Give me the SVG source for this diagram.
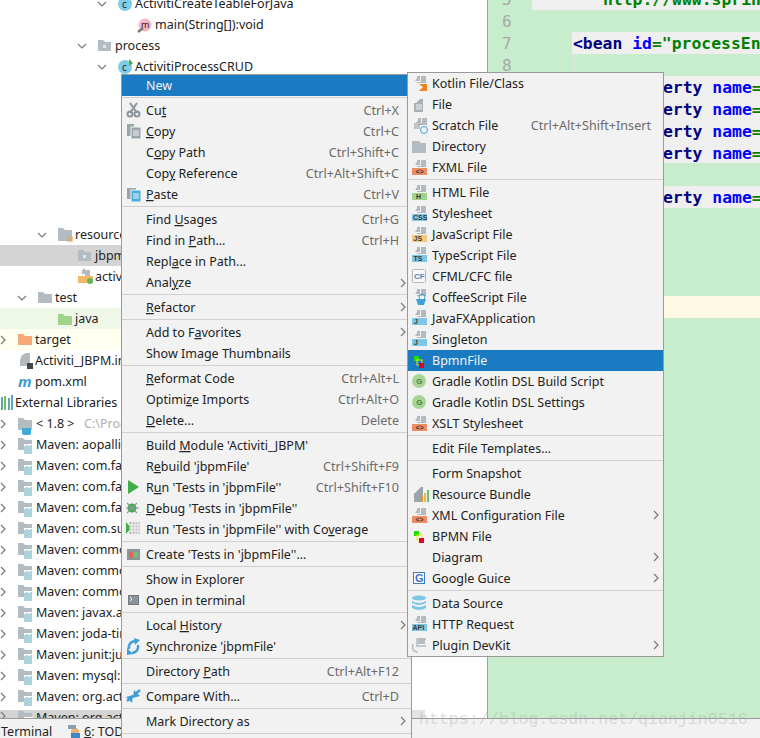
<svg xmlns="http://www.w3.org/2000/svg" width="760" height="738" viewBox="0 0 760 738">
<style>
text{font-family:"Noto Sans","Open Sans",sans-serif;font-size:12.5px;fill:#222}
.k{fill:#6b6b6b;text-anchor:end;font-size:12.6px}
.h{fill:#f2f2f2}
.u{text-decoration:underline}
.m{font-family:"DejaVu Sans Mono",monospace;font-size:16.4px;font-weight:bold}
.n{fill:#000080}.b{fill:#0000ff}.g{fill:#008000}
.ln{font-family:"DejaVu Sans Mono",monospace;font-size:16px;fill:#a8a8a8}
.sep{stroke:#cfcfcf;stroke-width:1;fill:none}
.chev{stroke:#7a7a7a;stroke-width:1.2;fill:none}
.tag{font-size:7px;font-weight:bold;fill:#3a3a3a;font-family:"Liberation Sans",sans-serif}
</style>
<defs>
<path id="cd" d="M-4 -2L0 2L4 -2" class="chev"/>
<path id="cr" d="M-2 -4L2 0L-2 4" class="chev"/>
<g id="pg"><path d="M5 0H8V5H5ZM3 5L5 2V5ZM9 0H14V7H5V6H9Z" fill="#b3babf"/></g>
<g id="fold"><path d="M0 0H5L7 2H13V11H0Z" fill="#b4bcc3"/><rect x="5" y="5" width="3" height="3" fill="#e6e9eb"/></g>
<g id="lib"><path d="M0 0H5L7 2H14V12H0Z" fill="#b4bcc3"/><path d="M6 6H15V16H6Z" fill="#fff"/><path d="M7 8V16M9 7V16M11 8V16M13 7V16" stroke="#5aa6b8" stroke-width="1"/></g>
</defs>
<rect width="760" height="738" fill="#fff"/>

<g id="editor">
<rect x="488" y="0" width="272" height="718" fill="#c7edcc"/>
<path d="M487.5 0V718" stroke="#a0a0a0"/>
<rect x="532" y="0" width="228" height="10" fill="#efefef"/>
<rect x="572" y="32" width="188" height="22" fill="#efefef"/>
<rect x="640" y="76" width="120" height="87" fill="#efefef"/>
<rect x="640" y="186" width="120" height="22" fill="#efefef"/>
<rect x="640" y="296" width="120" height="22" fill="#fff8e3"/>
<path d="M574.5 54V72" stroke="#dfe8df"/>
<text class="ln" x="502" y="5">5</text><text class="ln" x="502" y="27">6</text><text class="ln" x="502" y="49">7</text><text class="ln" x="502" y="71">8</text>
<text class="m g" x="603" y="5">http://www.sprin</text>
<text class="m n" x="573" y="49">&lt;bean <tspan class="b">id</tspan><tspan class="g">="processEn</tspan></text>
<text class="m n" x="663" y="93">erty <tspan class="b">name</tspan><tspan class="g">=</tspan></text>
<text class="m n" x="663" y="115">erty <tspan class="b">name</tspan><tspan class="g">=</tspan></text>
<text class="m n" x="663" y="137">erty <tspan class="b">name</tspan><tspan class="g">=</tspan></text>
<text class="m n" x="663" y="159">erty <tspan class="b">name</tspan><tspan class="g">=</tspan></text>
<text class="m n" x="663" y="203">erty <tspan class="b">name</tspan><tspan class="g">=</tspan></text>
</g>

<g id="project-tree">
<rect x="0" y="245" width="122" height="21" fill="#d4d4d4"/>
<rect x="0" y="308" width="122" height="21" fill="#eff8e8"/>
<rect x="0" y="329" width="122" height="21" fill="#fffff0"/>
<rect x="0" y="710" width="122" height="8" fill="#d4d4d4"/>
<use href="#cd" x="102" y="4"/><use href="#cd" x="82" y="46"/><use href="#cd" x="102" y="67"/><use href="#cd" x="42" y="235"/><use href="#cd" x="22" y="298"/>
<g id="tree-icons">
<circle cx="125" cy="4" r="7" fill="#7fcde8"/><text x="122" y="8" style="font-size:10px">c</text>
<circle cx="145" cy="25" r="6.5" fill="#f7b7c3"/><text x="141" y="28" style="font-size:9px">m</text>
<path d="M138 32L143 28" stroke="#777" stroke-width="2.5"/>
<use href="#fold" x="98" y="40"/>
<circle cx="125" cy="67" r="7" fill="#7fcde8"/><text x="122" y="71" style="font-size:10px">c</text><path d="M129 59L133 63L129 66Z" fill="#4caf3c"/>
<path d="M58 228H63L65 230H72V241H58Z" fill="#b4bcc3"/><path d="M67 237H73M67 239H73M67 241H73" stroke="#e8a33d"/>
<use href="#fold" x="78" y="250"/>
<path d="M82 270L85 268V274H82ZM85 270H90V276H85Z" fill="#b3babf"/><rect x="78" y="276" width="15" height="7" fill="#f5b867"/><circle cx="90" cy="281" r="3" fill="#5cb85c"/>
<path d="M38 292H43L45 294H52V303H38Z" fill="#b4bcc3"/>
<path d="M58 314H63L65 316H72V325H58Z" fill="#a2d38a"/>
<path d="M18 334H23L25 336H32V345H18Z" fill="#f5a878"/>
<path d="M22 355L26 353H30V366H20V360Z" fill="#b3babf"/><rect x="27" y="363" width="6" height="6" fill="#444"/>
<text x="18" y="387" style="font-size:15px;font-style:italic;fill:#3d9bd0;font-weight:bold">m</text>
<path d="M2 397V410M5 396V410M9 398V410M12 395V410" stroke="#5aa6b8" stroke-width="2"/><path d="M5 396V410" stroke="#79c050" stroke-width="2"/>
<path d="M18 418H23L25 420H32V430H18Z" fill="#b4bcc3"/><path d="M22 428H31V433Q31 435 29 435H24Q22 435 22 433Z" fill="#3fa9d8"/>
<use href="#lib" x="18" y="438"/><use href="#lib" x="18" y="459"/><use href="#lib" x="18" y="480"/><use href="#lib" x="18" y="501"/><use href="#lib" x="18" y="522"/><use href="#lib" x="18" y="543"/><use href="#lib" x="18" y="564"/><use href="#lib" x="18" y="585"/><use href="#lib" x="18" y="606"/><use href="#lib" x="18" y="627"/><use href="#lib" x="18" y="648"/><use href="#lib" x="18" y="669"/><use href="#lib" x="18" y="690"/><use href="#lib" x="18" y="711"/>
<use href="#cr" x="3" y="340"/><use href="#cr" x="3" y="424"/><use href="#cr" x="3" y="445"/><use href="#cr" x="3" y="466"/><use href="#cr" x="3" y="487"/><use href="#cr" x="3" y="508"/><use href="#cr" x="3" y="529"/><use href="#cr" x="3" y="550"/><use href="#cr" x="3" y="571"/><use href="#cr" x="3" y="592"/><use href="#cr" x="3" y="613"/><use href="#cr" x="3" y="634"/><use href="#cr" x="3" y="655"/><use href="#cr" x="3" y="676"/><use href="#cr" x="3" y="697"/><use href="#cr" x="3" y="716"/>
</g>
<g id="tree-labels" transform="translate(0,-1)">
<text x="135" y="9">ActivitiCreateTeableForJava</text>
<text x="155" y="30">main(String[]):void</text>
<text x="115" y="51">process</text>
<text x="135" y="72">ActivitiProcessCRUD</text>
<text x="75" y="240">resources</text>
<text x="95" y="261">jbpmFile</text>
<text x="95" y="282">activiti</text>
<text x="55" y="303">test</text>
<text x="75" y="324">java</text>
<text x="35" y="345">target</text>
<text x="35" y="366">Activiti_JBPM.iml</text>
<text x="35" y="387">pom.xml</text>
<text x="15" y="408">External Libraries</text>
<text x="36" y="429">&lt; 1.8 &gt;</text><text x="84" y="429" style="fill:#b0b0b0">C:\Program</text>
<text x="36" y="450">Maven: aopalliance</text>
<text x="36" y="471">Maven: com.fasterxml</text>
<text x="36" y="492">Maven: com.fasterxml</text>
<text x="36" y="513">Maven: com.fasterxml</text>
<text x="36" y="534">Maven: com.sun</text>
<text x="36" y="555">Maven: commons</text>
<text x="36" y="576">Maven: commons</text>
<text x="36" y="597">Maven: commons</text>
<text x="36" y="618">Maven: javax.activation</text>
<text x="36" y="639">Maven: joda-time</text>
<text x="36" y="660">Maven: junit:junit</text>
<text x="36" y="681">Maven: mysql:mysql</text>
<text x="36" y="702">Maven: org.activiti</text>
<text x="36" y="723">Maven: org.activiti</text>
</g>
</g>

<g id="status-bar">
<rect x="0" y="718" width="760" height="20" fill="#f2f2f2"/>
<path d="M0 718.5H760" stroke="#9a9a9a"/>
<text x="1" y="736">Terminal</text>
<circle cx="75" cy="732" r="4" fill="#f0b070"/><rect x="68" y="725" width="8" height="4" fill="#8aa0ac"/><rect x="71" y="733" width="9" height="5" fill="#3f88c5"/>
<text x="84" y="736"><tspan class="u">6</tspan>: TODO</text>
</g>

<g id="context-menu">
<rect x="121.500" y="74.500" width="290" height="670" fill="#f2f2f2" stroke="#9a9a9a"/>
<rect x="122" y="75" width="285" height="21" fill="#1b7bc2"/>
<path class="sep" d="M122 97.500H411M122 206.500H411M122 294.500H411M122 319.500H411M122 365.500H411M122 432.500H411M122 541.500H411M122 566.500H411M122 612.500H411M122 658.500H411M122 683.500H411M122 708.500H411M122 733.500H411"/>
<g id="menu-icons">
<path d="M130 103L137 113M137 103L130 113" stroke="#8a959c" stroke-width="2"/><circle cx="130" cy="114" r="2.500" fill="none" stroke="#8a959c" stroke-width="2"/><circle cx="137" cy="114" r="2.500" fill="none" stroke="#8a959c" stroke-width="2"/>
<path d="M127 124H134V136H127Z" fill="#9aa5ab"/><rect x="131" y="127" width="10" height="12" fill="#9aa5ab" stroke="#f2f2f2"/><path d="M133 131H139M133 133H139M133 135H139" stroke="#f2f2f2"/>
<path d="M127 188H136V199H127Z" fill="#9aa5ab"/><rect x="131" y="190" width="10" height="12" fill="#45b0e0" stroke="#f2f2f2"/><path d="M133 194H139M133 196H139M133 198H139" stroke="#f2f2f2"/>
<polygon points="128,480 128,494 139,487" fill="#3fae49"/>
<circle cx="132" cy="508" r="4.500" fill="#3fae49"/><path d="M127 503L137 513M137 503L127 513M126 508H139" stroke="#8a9a9a" stroke-width="1.200"/>
<polygon points="126,522 126,534 131,528" fill="#3fae49"/><rect x="129" y="522" width="11" height="12" fill="#b0b0b0" opacity=".7"/><path d="M129 525H140M129 528H140M129 531H140M132 522V534M135 522V534M138 522V534" stroke="#f2f2f2"/>
<rect x="127" y="549" width="13" height="11" fill="#8a959c"/><rect x="129" y="552" width="4" height="6" fill="#e8605a"/><rect x="133" y="552" width="5" height="6" fill="#6cc070"/>
<rect x="128.500" y="595.500" width="10" height="9" fill="#8a959c" stroke="#777"/><path d="M130 597L132 599L130 601" stroke="#eee" fill="none"/>
<path d="M129 649Q128 642 135 641M138 645Q139 652 132 653" stroke="#3f9fd8" stroke-width="2.500" fill="none"/><polygon points="134,638 140,640 135,645" fill="#3f9fd8"/><polygon points="127,648 133,654 127,655" fill="#3f9fd8"/>
<path d="M127 701L133 696M140 690L134 695" stroke="#3f9fd8" stroke-width="2.500"/><polygon points="126,697 133,695 132,703" fill="#3f9fd8"/><polygon points="140,696 133,698 134,690" fill="#3f9fd8"/>
</g>
<g id="menu-chevrons"><use href="#cr" x="403" y="283"/><use href="#cr" x="403" y="307"/><use href="#cr" x="403" y="332"/><use href="#cr" x="403" y="625"/><use href="#cr" x="403" y="721"/></g>
<text class="h" x="146" y="90">New</text>
<text x="146" y="115">Cu<tspan class="u">t</tspan></text><text class="k" x="399" y="115">Ctrl+X</text>
<text x="146" y="136"><tspan class="u">C</tspan>opy</text><text class="k" x="399" y="136">Ctrl+C</text>
<text x="146" y="157">C<tspan class="u">o</tspan>py Path</text><text class="k" x="399" y="157">Ctrl+Shift+C</text>
<text x="146" y="178">Cop<tspan class="u">y</tspan> Reference</text><text class="k" x="399" y="178">Ctrl+Alt+Shift+C</text>
<text x="146" y="199"><tspan class="u">P</tspan>aste</text><text class="k" x="399" y="199">Ctrl+V</text>
<text x="146" y="224">Find <tspan class="u">U</tspan>sages</text><text class="k" x="399" y="224">Ctrl+G</text>
<text x="146" y="245">Find in <tspan class="u">P</tspan>ath...</text><text class="k" x="399" y="245">Ctrl+H</text>
<text x="146" y="266">Repl<tspan class="u">a</tspan>ce in Path...</text>
<text x="146" y="287">Anal<tspan class="u">y</tspan>ze</text>
<text x="146" y="312"><tspan class="u">R</tspan>efactor</text>
<text x="146" y="337">Add to F<tspan class="u">a</tspan>vorites</text>
<text x="146" y="358">Show Image Thumbnails</text>
<text x="146" y="383"><tspan class="u">R</tspan>eformat Code</text><text class="k" x="399" y="383">Ctrl+Alt+L</text>
<text x="146" y="404">Optimi<tspan class="u">z</tspan>e Imports</text><text class="k" x="399" y="404">Ctrl+Alt+O</text>
<text x="146" y="425"><tspan class="u">D</tspan>elete...</text><text class="k" x="399" y="425">Delete</text>
<text x="146" y="450">Build <tspan class="u">M</tspan>odule 'Activiti_JBPM'</text>
<text x="146" y="471">R<tspan class="u">e</tspan>build 'jbpmFile'</text><text class="k" x="399" y="471">Ctrl+Shift+F9</text>
<text x="146" y="492">R<tspan class="u">u</tspan>n 'Tests in 'jbpmFile''</text><text class="k" x="399" y="492">Ctrl+Shift+F10</text>
<text x="146" y="513"><tspan class="u">D</tspan>ebug 'Tests in 'jbpmFile''</text>
<text x="146" y="534">Run 'Tests in 'jbpmFile'' with Co<tspan class="u">v</tspan>erage</text>
<text x="146" y="559">Create 'Tests in 'jbpmFile''...</text>
<text x="146" y="584">Show in Explorer</text>
<text x="146" y="605">Open in terminal</text>
<text x="146" y="630">Local <tspan class="u">H</tspan>istory</text>
<text x="146" y="651">Synchronize 'jbpmFile'</text>
<text x="146" y="676">Directory <tspan class="u">P</tspan>ath</text><text class="k" x="399" y="676">Ctrl+Alt+F12</text>
<text x="146" y="701">Compare With...</text><text class="k" x="399" y="701">Ctrl+D</text>
<text x="146" y="726">Mark Directory as</text>
</g>

<g id="new-submenu">
<rect x="407.500" y="72.500" width="256" height="584" fill="#f2f2f2" stroke="#9a9a9a"/>
<rect x="408" y="350" width="255" height="21" fill="#1b7bc2"/>
<path class="sep" d="M408 179.500H663M408 435.500H663M408 460.500H663M408 590.500H663"/>
<g id="sub-icons">
<g transform="translate(412,76)"><use href="#pg"/><polygon points="7,8 15,8 15,15 7,15 11,11" fill="#f08020"/></g>
<path d="M416 103L420 99H423V112H414V103Z" fill="#a9b0b5"/><path d="M416 105H422M416 107H422M416 109H422" stroke="#f2f2f2"/>
<g transform="translate(413,118)"><use href="#pg"/><path d="M1 6H9M1 8H7M1 10H7" stroke="#8a959c"/><circle cx="11" cy="12" r="3.500" fill="#f2f2f2" stroke="#3f9fd8"/></g>
<path d="M412 141H419L421 143H426V153H412Z" fill="#b4bcc3"/>
<g transform="translate(412,160)"><use href="#pg"/><rect y="8" width="15" height="7" fill="#f08a60"/><text class="tag" x="3.500" y="14">&lt;&gt;</text></g>
<g transform="translate(412,185)"><use href="#pg"/><rect y="8" width="15" height="7" fill="#a2d38a"/><text class="tag" x="4" y="14">H</text></g>
<g transform="translate(412,206)"><use href="#pg"/><rect y="8" width="15" height="7" fill="#7cc7e8"/><text class="tag" x="1" y="14">CSS</text></g>
<g transform="translate(412,227)"><use href="#pg"/><rect y="8" width="15" height="7" fill="#f5c880"/><text class="tag" x="1.500" y="14">JS</text></g>
<g transform="translate(412,247)"><use href="#pg"/><rect y="8" width="15" height="7" fill="#7cc7e8"/><text class="tag" x="1.500" y="14">TS</text></g>
<rect x="412.500" y="269.500" width="13" height="13" rx="1" fill="#f8f8f8" stroke="#b0b8bd"/><text class="tag" x="414" y="279" style="fill:#4a86b8;font-size:8px">CF</text>
<g transform="translate(412,289)"><use href="#pg"/><path d="M4 10H14L12 16H6Z" fill="#3f9fd8"/><circle cx="10" cy="8" r="3" fill="none" stroke="#3f9fd8"/></g>
<g transform="translate(412,310)"><use href="#pg"/><rect y="8" width="15" height="7" fill="#7cc7e8"/><text class="tag" x="2" y="14">J</text></g>
<g transform="translate(412,331)"><use href="#pg"/><rect y="8" width="15" height="7" fill="#7cc7e8"/><text class="tag" x="2" y="14">J</text></g>
<g id="bpmn-a"><rect x="414" y="356" width="5" height="5" fill="#1ee000"/><rect x="417" y="360" width="5" height="5" fill="none" stroke="#e8e800"/><rect x="419" y="363" width="5" height="5" fill="#e00030"/></g>
<circle cx="419" cy="381" r="7" fill="#a8d596"/><text class="tag" x="416.300" y="384" style="font-size:8px;fill:#4a7a40">G</text>
<circle cx="419" cy="402" r="7" fill="#a8d596"/><text class="tag" x="416.300" y="405" style="font-size:8px;fill:#4a7a40">G</text>
<g transform="translate(412,416)"><use href="#pg"/><rect y="8" width="15" height="7" fill="#f08a60"/><text class="tag" x="3.500" y="14">&lt;&gt;</text></g>
<g transform="translate(414,487)"><path d="M3 4L7 0H9V15H0V7Z" fill="#9aa5ab"/><rect x="7" y="9" width="2" height="6" fill="#f08a30"/><rect x="10" y="6" width="2" height="9" fill="#e8b840"/><rect x="13" y="3" width="2" height="12" fill="#6cc070"/></g>
<g transform="translate(412,508)"><use href="#pg"/><rect y="8" width="15" height="7" fill="#f08a60"/><text class="tag" x="3.500" y="14">&lt;&gt;</text></g>
<use href="#bpmn-a" y="175"/>
<rect x="413.500" y="572.500" width="11" height="11" fill="#fff" stroke="#3a7ec8"/><text class="tag" x="415" y="582" style="font-size:11px;fill:#3a6fd8">G</text>
<ellipse cx="419" cy="598" rx="7" ry="2.500" fill="#7cc7e8"/><path d="M412 601Q419 605 426 601V603Q419 607 412 603ZM412 605Q419 609 426 605V608Q419 612 412 608Z" fill="#7cc7e8"/>
<g transform="translate(412,616)"><use href="#pg"/><rect y="8" width="15" height="7" fill="#7cc7e8"/><text class="tag" x="0.500" y="14">API</text></g>
<path d="M426 639H417V646H426M413 644Q411 652 418 652" stroke="#b5bcc2" stroke-width="1.500" fill="none"/><rect x="418" y="638" width="7" height="6" fill="#b5bcc2"/>
</g>
<g id="sub-chevrons"><use href="#cr" x="656" y="515"/><use href="#cr" x="656" y="557"/><use href="#cr" x="656" y="578"/><use href="#cr" x="656" y="645"/></g>
<text x="432" y="88">Kotlin File/Class</text>
<text x="432" y="109">File</text>
<text x="432" y="130">Scratch File</text><text class="k" x="651" y="130">Ctrl+Alt+Shift+Insert</text>
<text x="432" y="151">Directory</text>
<text x="432" y="172">FXML File</text>
<text x="432" y="197">HTML File</text>
<text x="432" y="218">Stylesheet</text>
<text x="432" y="239">JavaScript File</text>
<text x="432" y="260">TypeScript File</text>
<text x="432" y="281">CFML/CFC file</text>
<text x="432" y="302">CoffeeScript File</text>
<text x="432" y="323">JavaFXApplication</text>
<text x="432" y="344">Singleton</text>
<text class="h" x="432" y="365">BpmnFile</text>
<text x="432" y="386">Gradle Kotlin DSL Build Script</text>
<text x="432" y="407">Gradle Kotlin DSL Settings</text>
<text x="432" y="428">XSLT Stylesheet</text>
<text x="432" y="453">Edit File Templates...</text>
<text x="432" y="478">Form Snapshot</text>
<text x="432" y="499">Resource Bundle</text>
<text x="432" y="520">XML Configuration File</text>
<text x="432" y="541">BPMN File</text>
<text x="432" y="562">Diagram</text>
<text x="432" y="583">Google Guice</text>
<text x="432" y="608">Data Source</text>
<text x="432" y="629">HTTP Request</text>
<text x="432" y="650">Plugin DevKit</text>
</g>

<g id="watermark">
<rect x="412" y="710" width="13" height="8" fill="#e3e3e3"/>
<text x="419" y="724" style="font-family:'Liberation Mono',monospace;font-size:16.6px;fill:#b0b0b0;opacity:.4">https://blog.csdn.net/qianjin0516</text>
</g>
</svg>
